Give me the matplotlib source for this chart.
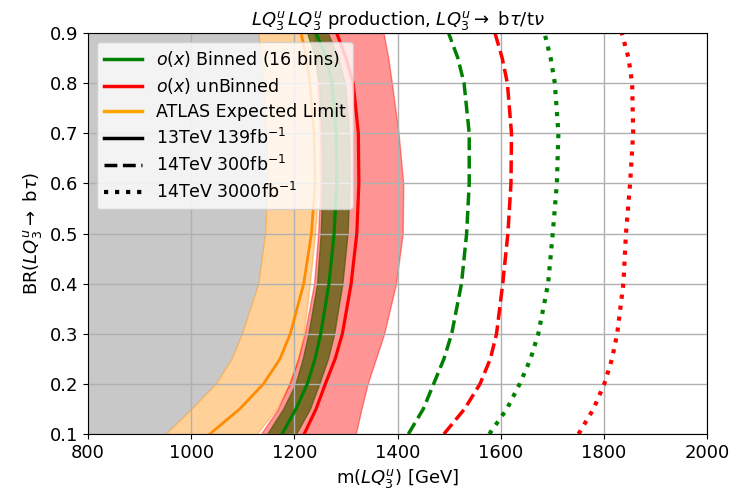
import numpy as np
import matplotlib
matplotlib.use('Agg')
from matplotlib import pyplot as plt
from matplotlib.lines import Line2D

# branching ratio values where the curves were read
br = [0.1, 0.15, 0.2, 0.25, 0.3, 0.4, 0.5, 0.6, 0.7, 0.8, 0.85, 0.9]

# ATLAS expected limit (13TeV) and its band
atlas_lo = [950, 1000, 1047, 1078, 1098, 1130, 1143, 1148, 1146, 1140, 1136, 1130]
atlas_mid = [1036, 1094, 1140, 1172, 1192, 1218, 1233, 1240, 1238, 1230, 1223, 1213]
atlas_hi = [1127, 1165, 1192, 1208, 1218, 1230, 1240, 1247, 1249, 1245, 1240, 1235]

# o(x) binned, 13TeV
bin_lo = [1147, 1178, 1202, 1216, 1227, 1244, 1251, 1254, 1253, 1248, 1240, 1225]
bin_mid = [1176, 1203, 1225, 1240, 1251, 1267, 1277, 1282, 1281, 1273, 1262, 1242]
bin_hi = [1203, 1230, 1248, 1265, 1277, 1293, 1303, 1307, 1306, 1298, 1285, 1265]

# o(x) unbinned, 13TeV
unbin_lo = [1135, 1168, 1190, 1207, 1220, 1238, 1246, 1250, 1250, 1245, 1242, 1238]
unbin_mid = [1219, 1242, 1260, 1279, 1293, 1310, 1321, 1325, 1324, 1314, 1300, 1282]
unbin_hi = [1319, 1330, 1342, 1358, 1374, 1397, 1410, 1411, 1402, 1389, 1382, 1373]

# projections
bin_300 = [1421, 1450, 1470, 1490, 1505, 1524, 1534, 1539, 1539, 1529, 1517, 1499]
unbin_300 = [1490, 1530, 1560, 1580, 1592, 1604, 1614, 1620, 1621, 1613, 1603, 1589]
bin_3000 = [1578, 1612, 1637, 1658, 1673, 1692, 1701, 1709, 1712, 1705, 1697, 1685]
unbin_3000 = [1751, 1780, 1801, 1816, 1826, 1838, 1843, 1851, 1857, 1855, 1848, 1835]

fig = plt.figure(figsize = (7.41, 4.94), dpi = 100)
ax = fig.add_axes([0.119, 0.1215, 0.835, 0.8115])

# excluded region and bands
ax.fill_betweenx(br, 800, atlas_lo, color = '#c8c8c8', lw = 0)
ax.fill_betweenx(br, atlas_lo, atlas_hi, color = 'darkorange', alpha = 0.4, lw = 1)
ax.fill_betweenx(br, unbin_lo, unbin_hi, color = 'red', alpha = 0.42, lw = 1)
ax.fill_betweenx(br, bin_lo, bin_hi, color = '#4a5a00', alpha = 0.7, lw = 1)

ax.plot(atlas_mid, br, color = 'darkorange', lw = 2)
ax.plot(bin_mid, br, color = 'green', lw = 2.3)
ax.plot(unbin_mid, br, color = 'red', lw = 2.3)
ax.plot(bin_300, br, color = 'green', lw = 2.5, ls = '--')
ax.plot(unbin_300, br, color = 'red', lw = 2.5, ls = '--')
ax.plot(bin_3000, br, color = 'green', lw = 3, ls = ':')
ax.plot(unbin_3000, br, color = 'red', lw = 3, ls = ':')

ax.set_xlim(800, 2000)
ax.set_ylim(0.1, 0.9)
ax.grid(True, color = '#b0b0b0', lw = 1)
ax.tick_params(labelsize = 13)

ax.set_xlabel(r'm($LQ_3^u$) [GeV]', fontsize = 13)
ax.set_ylabel(r'BR($LQ_3^u\rightarrow$ b$\tau$)', fontsize = 13)
ax.set_title(r'$LQ_3^u\,LQ_3^u$ production, $LQ_3^u\rightarrow$ b$\tau$/t$\nu$', fontsize = 13)

handles = [Line2D([], [], color = 'green', lw = 2.5),
           Line2D([], [], color = 'red', lw = 2.5),
           Line2D([], [], color = 'orange', lw = 2.5),
           Line2D([], [], color = 'black', lw = 2.5),
           Line2D([], [], color = 'black', lw = 2.5, ls = '--'),
           Line2D([], [], color = 'black', lw = 3, ls = ':')]
labels = [r'$o(x)$ Binned (16 bins)', r'$o(x)$ unBinned', 'ATLAS Expected Limit',
          r'13TeV 139fb$^{-1}$', r'14TeV 300fb$^{-1}$', r'14TeV 3000fb$^{-1}$']
ax.legend(handles, labels, loc = 'upper left', fontsize = 12.5, framealpha = 0.8,
          handlelength = 2.2, labelspacing = 0.4, borderpad = 0.4)

fig.savefig('out.png', dpi = 100)
